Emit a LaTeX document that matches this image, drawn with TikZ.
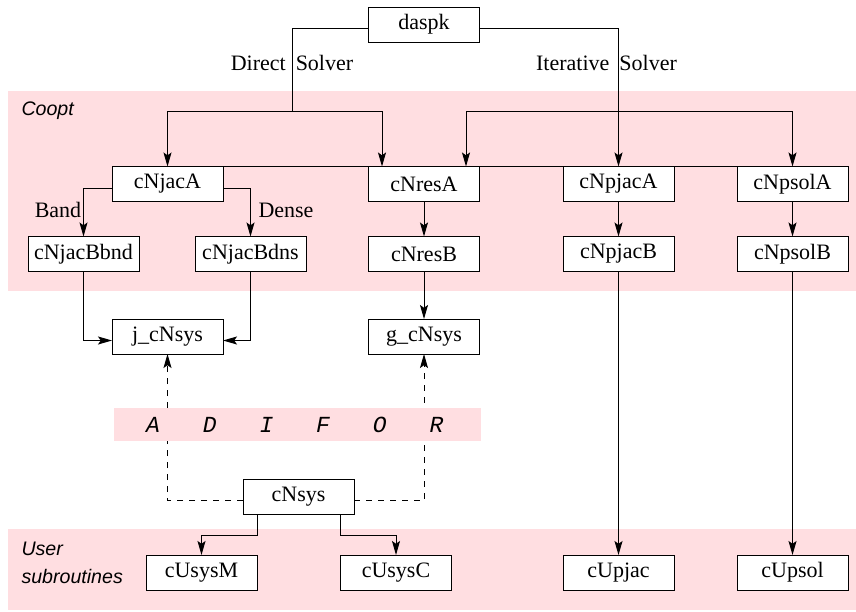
\documentclass[tikz,border=0pt]{standalone}
\usepackage{fontspec}
\setmainfont{Liberation Serif}
\setsansfont{Liberation Sans}
\setmonofont{Liberation Mono}
\usetikzlibrary{positioning,arrows.meta,calc}
\definecolor{bandFill}{RGB}{255,222,225}

\begin{document}
\begin{tikzpicture}[
	x=0.5pt, y=-0.5pt,
	font=\fontsize{11}{13}\selectfont,
	box/.style={draw, fill=white, minimum width=55.5pt, minimum height=17.5pt,
		inner sep=1pt, outer sep=0pt},
	lbl/.style={inner sep=1pt},
	group/.style={font=\fontsize{9.8}{14}\selectfont\sffamily\itshape, align=left, anchor=west, inner sep=0pt},
	adifor/.style={font=\fontsize{11.5}{13}\selectfont\ttfamily\itshape, inner sep=0pt},
	arr/.style={-{Stealth[length=7pt, width=4pt, inset=1.4pt]}},
	line width=0.5pt,
	]
	\useasboundingbox (0,0) rectangle (856,611);
	\fill[bandFill] (8,91) rectangle (856,291);
	\fill[bandFill] (8,529) rectangle (856,610);
	\node [group] (coopt) at (21,111) {Coopt};
	\node [group] (user) at (21,563) {User\\subroutines};
	
	\node [box] (daspk) at (424,24.5) {daspk};
	\node [box] (jacA) at (167.5,184) {cNjacA};
	\node [box] (resA) at (424,184) {cNresA};
	\node [box] (pjacA) at (618.5,184) {cNpjacA};
	\node [box] (psolA) at (792.5,184) {cNpsolA};
	\node [box] (bbnd) at (83.5,254) {cNjacBbnd};
	\node [box] (bdns) at (250.5,254) {cNjacBdns};
	\node [box] (resB) at (424,254) {cNresB};
	\node [box] (pjacB) at (618.5,254) {cNpjacB};
	\node [box] (psolB) at (792.5,254) {cNpsolB};
	\node [box] (jsys) at (167.5,336.5) {j\_cNsys};
	\node [box] (gsys) at (424,336.5) {g\_cNsys};
	\node [box] (nsys) at (298.5,496.5) {cNsys};
	\node [box] (usysM) at (201.5,572.5) {cUsysM};
	\node [box] (usysC) at (396,572.5) {cUsysC};
	\node [box] (upjac) at (618.5,572.5) {cUpjac};
	\node [box] (upsol) at (792.5,572.5) {cUpsol};
	
	\node [lbl] (direct) at (292,63) {Direct\hspace{5pt}Solver};
	\node [lbl] (iter) at (606.5,63) {Iterative\hspace{5pt}Solver};
	\node [lbl] (band) at (58,210) {Band};
	\node [lbl] (dense) at (286,210) {Dense};
	
	\coordinate (dsplit) at (292,111);
	\coordinate (isplit) at (618.5,111);
	\coordinate (rl) at (382,111);
	\coordinate (rr) at (466,111);
	\coordinate (ml) at (257,535);
	\coordinate (mr) at (340.5,535);
	
	\draw ([yshift=-2pt]daspk.west) -| (dsplit);
	\draw[arr] (dsplit) -| (jacA.north);
	\draw[arr] (dsplit) -| (resA.north -| rl);
	\draw[arr] ([yshift=-2pt]daspk.east) -| (pjacA.north);
	\draw[arr] (isplit) -| (resA.north -| rr);
	\draw[arr] (isplit) -| (psolA.north);
	\draw (jacA.north west) -- (psolA.north east);
	
	\draw[arr] ([yshift=-2pt]jacA.west) -| (bbnd.north);
	\draw[arr] ([yshift=-2pt]jacA.east) -| (bdns.north);
	\draw[arr] (resA) -- (resB);
	\draw[arr] (pjacA) -- (pjacB);
	\draw[arr] (psolA) -- (psolB);
	\draw[arr] (bbnd.south) |- ([yshift=-2pt]jsys.west);
	\draw[arr] (bdns.south) |- ([yshift=-2pt]jsys.east);
	\draw[arr] (resB) -- (gsys);
	\draw[arr] (pjacB) -- (upjac);
	\draw[arr] (psolB) -- (upsol);
	
	\draw[arr, dashed] ([yshift=-2pt]nsys.west) -| (jsys.south);
	\draw[arr, dashed] ([yshift=-2pt]nsys.east) -| (gsys.south);
	\fill[bandFill] (114,408) rectangle (481,441);
	\foreach \l [count=\i] in {A,D,I,F,O,R}
		\node [adifor] (ad\i) at ({96.3+56.7*\i},425) {\l};
	
	\draw[arr] (nsys.south -| ml) -- (ml) -| (usysM.north);
	\draw[arr] (nsys.south -| mr) -- (mr) -| (usysC.north);
\end{tikzpicture}
\end{document}
